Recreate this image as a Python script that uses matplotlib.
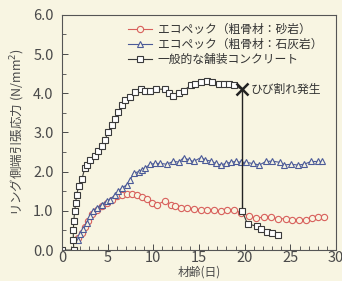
# -*- coding: utf-8 -*-
"""
Tensile stress at ring side edge vs. age: Ecopeck (sandstone / limestone) and ordinary paving concrete
"""
import matplotlib
matplotlib.use('Agg')
import matplotlib.pyplot as plt
import matplotlib as mpl

mpl.rcParams['font.family'] = ['Noto Sans CJK JP', 'DejaVu Sans']

# sandstone aggregate (red circles)
sand_day = [1.8, 2.16, 2.53, 2.89, 3.26, 3.81, 4.36, 4.91, 5.46, 6.01, 6.56, 7.11, 7.66, 8.21,
            8.76, 9.31, 9.86, 10.4, 11.3, 11.9, 12.4, 13.0, 13.7, 14.4, 15.2, 15.9, 16.6, 17.4,
            18.1, 18.8, 19.6, 20.5, 21.2, 22.1, 22.9, 23.6, 24.5, 25.2, 25.97, 26.7, 27.4, 28.0, 28.7]
sand_val = [0.32, 0.44, 0.59, 0.74, 0.91, 1.03, 1.12, 1.2, 1.29, 1.37, 1.41, 1.43, 1.43, 1.41,
            1.35, 1.31, 1.2, 1.16, 1.26, 1.16, 1.12, 1.08, 1.08, 1.05, 1.03, 1.01, 1.01, 0.99,
            1.01, 1.03, 0.95, 0.86, 0.82, 0.84, 0.84, 0.8, 0.8, 0.78, 0.78, 0.78, 0.82, 0.84, 0.84]

# limestone aggregate (blue triangles)
lime_day = [1.8, 2.0, 2.34, 2.71, 3.08, 3.44, 3.81, 4.36, 4.91, 5.27, 5.82, 6.19, 6.56, 7.11,
            7.47, 7.84, 8.38, 8.76, 9.12, 9.67, 10.2, 10.77, 11.5, 12.2, 12.8, 13.3, 13.9, 14.4,
            15.2, 15.7, 16.3, 16.8, 17.4, 17.9, 18.5, 19.0, 19.6, 20.1, 20.85, 21.6, 22.3, 23.0,
            23.8, 24.3, 25.05, 25.8, 26.5, 27.25, 28.0, 28.5]
lime_val = [0.27, 0.4, 0.53, 0.7, 0.87, 0.99, 1.08, 1.16, 1.25, 1.29, 1.41, 1.5, 1.58, 1.67,
            1.79, 1.96, 2.0, 2.05, 2.1, 2.19, 2.21, 2.21, 2.19, 2.27, 2.24, 2.36, 2.3, 2.26,
            2.36, 2.3, 2.27, 2.21, 2.17, 2.21, 2.24, 2.26, 2.24, 2.24, 2.21, 2.17, 2.26, 2.27,
            2.24, 2.17, 2.19, 2.17, 2.19, 2.26, 2.26, 2.26]

# ordinary paving concrete (squares), before and after cracking
conc_day = [0.0, 1.3, 1.25, 1.25, 1.3, 1.4, 1.5, 1.6, 1.85, 2.2, 2.5, 2.71, 3.08, 3.63, 3.99,
            4.36, 4.73, 5.02, 5.46, 5.82, 6.19, 6.56, 6.92, 7.47, 8.02, 8.6, 9.1, 9.6, 10.3,
            11.3, 11.7, 12.2, 12.8, 13.3, 14.1, 14.6, 15.2, 15.9, 16.4, 17.2, 17.7, 18.3, 18.8]
conc_val = [0.0, 0.0, 0.27, 0.52, 0.74, 1.0, 1.2, 1.41, 1.63, 1.82, 2.09, 2.16, 2.3, 2.39, 2.52,
            2.65, 2.8, 3.02, 3.18, 3.35, 3.52, 3.69, 3.82, 3.9, 4.03, 4.1, 4.07, 4.07, 4.11,
            4.1, 4.01, 3.94, 4.01, 4.07, 4.2, 4.24, 4.28, 4.32, 4.28, 4.24, 4.24, 4.24, 4.2]
after_day = [19.7, 20.3, 21.3, 21.8, 22.4, 23.0, 23.6]
after_val = [1.0, 0.67, 0.61, 0.55, 0.46, 0.43, 0.38]

crack_day = 19.7
crack_top = 4.1
crack_bottom = 1.0

labels = ['エコペック（粗骨材：砂岩）', 'エコペック（粗骨材：石灰岩）', '一般的な舗装コンクリート']

bg = '#f8f5e2'
red = '#d8605c'
blue = '#4b5a98'
dark = '#3a3a3a'
grey = '#4a4a4a'

fig = plt.figure(figsize=(3.42, 2.81), dpi=100, facecolor=bg)
ax = fig.add_axes([0.181, 0.110, 0.802, 0.837], facecolor=bg)

ax.plot(sand_day, sand_val, color=red, lw=0.8, marker='o', ms=4.5, mfc=bg, mec=red, mew=0.8,
        label=labels[0])
ax.plot(lime_day, lime_val, color=blue, lw=0.8, marker='^', ms=4.5, mfc=bg, mec=blue, mew=0.8,
        label=labels[1])
ax.plot(conc_day + [crack_day], conc_val + [crack_top], color=dark, lw=0.8, marker='s', ms=4.5,
        mfc='white', mec=dark, mew=0.8, markevery=list(range(len(conc_day))), label=labels[2])
ax.plot([crack_day, crack_day], [crack_top, crack_bottom], color='#222222', lw=1.0)
ax.plot(after_day, after_val, color=dark, lw=0.8, marker='s', ms=4.5, mfc='white', mec=dark, mew=0.8)
ax.plot(crack_day, crack_top, marker='x', ms=9, mew=1.8, color='#222222', ls='none')
ax.text(crack_day + 0.9, crack_top, 'ひび割れ発生', fontsize=8.5, va='center', ha='left', color='#333333')

ax.set_xlim(0, 30)
ax.set_ylim(0, 6)
ax.set_xticks(range(0, 31, 5))
ax.set_xticks(range(0, 31), minor=True)
ax.set_yticks([0, 1, 2, 3, 4, 5, 6])
ax.set_yticklabels(['0.0', '1.0', '2.0', '3.0', '4.0', '5.0', '6.0'])
ax.set_yticks([0.5, 1.5, 2.5, 3.5, 4.5, 5.5], minor=True)
ax.tick_params(axis='both', which='major', direction='in', length=4, width=0.7, labelsize=10.5,
               colors=grey, pad=1)
ax.tick_params(axis='both', which='minor', direction='in', length=3, width=0.6, colors=grey)
ax.tick_params(axis='y', which='major', pad=6)
for s in ax.spines.values():
    s.set_linewidth(0.8)
    s.set_color('#555555')

ax.set_xlabel('材齢(日)', fontsize=8.5, color=grey, labelpad=0)
ax.set_ylabel('リング側端引張応力 (N/mm$^2$)', fontsize=9, color=grey, labelpad=4)

ax.legend(loc='upper right', bbox_to_anchor=(0.975, 0.995), frameon=False, fontsize=8.5,
          handlelength=2.0, handletextpad=0.5, labelspacing=0.15, borderaxespad=0.2,
          labelcolor='#333333')

fig.savefig('out.png', dpi=100, facecolor=bg)
